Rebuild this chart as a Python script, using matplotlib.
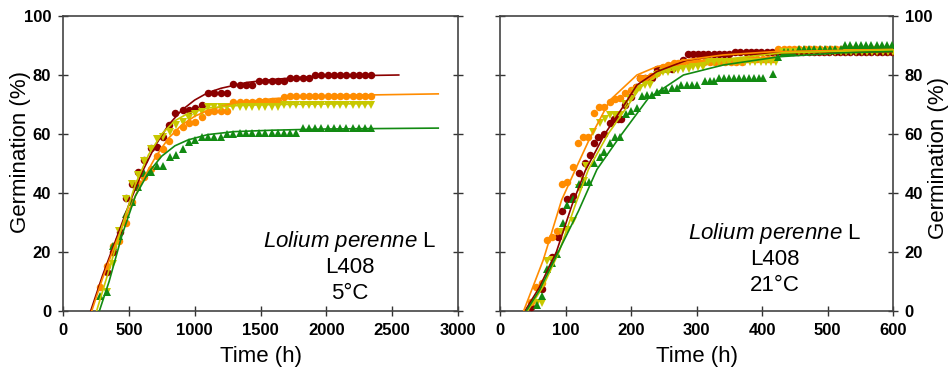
import matplotlib
matplotlib.use("Agg")
from matplotlib import pyplot as plt

plt.rcParams['font.family'] = ['Liberation Sans', 'DejaVu Sans']
plt.rcParams['mathtext.fontset'] = 'custom'
plt.rcParams['mathtext.rm'] = 'Liberation Sans'
plt.rcParams['mathtext.it'] = 'Liberation Sans:italic'

# ---- tick labels ----
ticks_x5 = [0, 500, 1000, 1500, 2000, 2500, 3000]
ticks_x21 = [0, 100, 200, 300, 400, 500, 600]
ticks_y = [0, 20, 40, 60, 80, 100]

# ---- 5 °C : measured points ----
t5_rojo = [332, 382, 433, 478, 521, 572, 617, 666, 711, 762, 807, 853, 908, 954, 1002,
           1053, 1103, 1149, 1197, 1243, 1293, 1344, 1390, 1435, 1486, 1536, 1587, 1635,
           1678, 1724, 1769, 1820, 1865, 1913, 1961, 2009, 2057, 2105, 2153, 2201, 2249,
           2297, 2343]
g5_rojo = [13.3, 20.1, 26.9, 38.2, 43, 47, 51.2, 55.1, 55.5, 59.1, 63, 67, 68, 68, 68.7,
           69.8, 73.8, 73.8, 73.8, 73.8, 76.9, 76.6, 76.6, 76.6, 78, 78, 78, 78,
           78, 79, 79, 79, 79, 80, 80, 80, 80, 80, 80, 80, 80,
           80, 80]
t5_naranja = [281, 332, 382, 428, 476, 521, 572, 617, 666, 711, 762, 808, 858, 908, 954,
              1002, 1053, 1103, 1149, 1197, 1243, 1293, 1344, 1390, 1435, 1486, 1536,
              1587, 1635, 1678, 1724, 1769, 1820, 1865, 1913, 1961, 2009, 2057, 2105,
              2153, 2201, 2249, 2297, 2343]
g5_naranja = [8.2, 15.2, 22, 23.8, 30, 37, 43.3, 45.5, 48, 52.6, 55, 57.5, 60.8, 62.5, 63.6,
              64.2, 65.6, 67.6, 67.8, 67.8, 67.8, 71, 71, 71, 71, 71.3, 71.3,
              71.3, 71.3, 72.7, 73, 73, 73, 73, 73, 73, 73, 73, 73,
              73, 73, 73, 73, 73]
t5_amarillo = [332, 382, 428, 476, 521, 572, 617, 666, 711, 762, 812, 858, 908, 954, 1002,
               1053, 1103, 1149, 1197, 1243, 1293, 1344, 1390, 1435, 1486, 1536, 1587,
               1635, 1678, 1724, 1769, 1820, 1865, 1913, 1961, 2009, 2057, 2105, 2153,
               2201, 2249, 2297, 2343]
g5_amarillo = [6.5, 15.8, 27, 38, 43, 46, 51, 54.8, 58.2, 59, 60.8, 63, 64, 65.3, 66.8,
               67.6, 69.3, 69.3, 69.3, 69.3, 69.3, 69.3, 69.3, 69.3, 69.3, 69.3, 69.3,
               69.3, 69.8, 69.8, 69.8, 69.8, 69.8, 69.8, 69.8, 69.8, 69.8, 69.8, 69.8,
               69.8, 69.8, 69.8, 69.8]
t5_verde = [281, 332, 382, 428, 476, 521, 572, 617, 666, 711, 762, 812, 858, 908, 954,
            1002, 1053, 1103, 1149, 1197, 1243, 1293, 1344, 1390, 1435, 1486, 1536, 1587,
            1635, 1678, 1724, 1769, 1820, 1865, 1913, 1961, 2009, 2057, 2105, 2153, 2201,
            2249, 2297, 2343]
g5_verde = [5, 6.3, 22, 25.5, 33, 37, 42.1, 46.9, 47, 49.1, 49.1, 52.3, 52.9, 54.8, 57.4,
            58, 58.9, 59.1, 59.1, 59.1, 60, 60, 60.3, 60.5, 60.5, 60.5, 60.5, 60.5,
            60.5, 60.5, 60.5, 60.5, 61.9, 61.9, 61.9, 61.9, 61.9, 61.9, 61.9, 61.9, 61.9,
            61.9, 61.9, 61.9]

# ---- 5 °C : fitted curves ----
lt5_rojo = [210, 300, 400, 500, 600, 700, 800, 900, 1000, 1100, 1200, 1400, 1600, 1800, 2000, 2550]
lg5_rojo = [0, 12, 24, 36, 47, 56, 63, 68, 71.5, 74, 75.5, 77.5, 78.5, 79.2, 79.6, 80]
lt5_naranja = [218, 300, 400, 500, 600, 700, 800, 900, 1000, 1100, 1300, 1600, 2000, 2850]
lg5_naranja = [0, 11, 23, 34, 44, 52, 58.5, 63, 66, 68, 70.5, 72, 73, 73.6]
lt5_amarillo = [255, 350, 450, 550, 650, 750, 850, 950, 1100, 1300, 1600, 2350]
lg5_amarillo = [0, 14, 29, 43, 53, 60, 64.5, 67, 68.8, 69.6, 70, 70.3]
lt5_verde = [276, 350, 450, 550, 650, 750, 850, 950, 1100, 1300, 1600, 2000, 2850]
lg5_verde = [0, 10, 26, 39, 47, 52.5, 56, 58, 59.8, 60.8, 61.3, 61.7, 62]

# ---- 21 °C : measured points ----
t21_rojo = [47, 64, 79, 88, 94, 103, 111, 120, 129, 137, 144, 150, 159, 168, 174, 180, 185,
            191, 200, 207, 214, 221, 228, 232, 239, 247, 255, 262, 270, 279, 287, 294, 302,
            310, 318, 326, 334, 342, 350, 359, 367, 375, 383, 391, 399, 407, 415, 423,
            431, 439, 447, 455, 463, 471, 479, 487, 495, 503, 511, 519, 527, 535, 543,
            551, 559, 567, 575, 583, 591, 599]
g21_rojo = [1.2, 7.3, 18.2, 25.2, 34, 37.9, 39, 46.9, 50, 53, 56.8, 58.9, 59.9, 63.6, 65, 65, 65,
            69.8, 72.6, 76, 78.9, 78.9, 78.9, 78.9, 81.9, 82, 82, 82, 83, 85, 87, 87, 87,
            87, 87, 87, 87, 87, 87, 87.9, 87.9, 87.9, 87.9, 87.9, 87.9, 87.9, 87.9, 87.9,
            87.9, 87.9, 87.9, 87.9, 87.9, 87.9, 87.9, 87.9, 87.9, 87.9, 87.9, 87.9, 87.9, 87.9, 87.9,
            87.9, 87.9, 87.9, 87.9, 87.9, 87.9, 87.9]
t21_naranja = [47, 55, 64, 71, 79, 87, 94, 103, 112, 119, 127, 135, 144, 151, 159, 168, 176,
               183, 191, 200, 207, 214, 222, 230, 239, 249, 257, 265, 272, 280, 288, 296,
               304, 312, 320, 328, 336, 344, 352, 360, 369, 377, 385, 393, 401, 409, 417,
               425, 433, 441, 449, 457, 465, 473, 481, 489, 497, 505, 513, 521, 529, 537,
               545, 553, 561, 569, 577, 585, 593, 601]
g21_naranja = [3.2, 8.3, 9.4, 24, 25.2, 27.1, 43, 43.8, 48.9, 56.8, 58.9, 58.9, 67, 69, 69, 71,
               71.7, 72.1, 74, 75, 75.8, 78.9, 79, 79.5, 80.8, 82.8, 83.4, 84, 84, 84.5, 84.5,
               84.5, 84.5, 84.5, 84.5, 84.5, 84.5, 84.5, 84.5, 84.5, 84.5, 85.3, 85.3, 85.3,
               85.3, 85.3, 85.3, 88.7, 88.7, 88.7, 88.7, 88.7, 88.7, 88.7, 88.7, 88.7, 88.7,
               88.7, 88.7, 88.7, 88.7, 88.7, 88.7, 88.7, 88.7, 88.7, 88.7, 88.7, 88.7, 88.7]
t21_amarillo = [56, 64, 71, 79, 94, 103, 112, 120, 128, 132, 142, 152, 160, 168, 176, 183,
                191, 198, 206, 214, 221, 229, 239, 249, 257, 265, 272, 280, 288, 295, 303,
                310, 318, 326, 334, 342, 350, 358, 366, 374, 382, 390, 398, 406, 414, 422,
                432, 440, 448, 456, 464, 472, 480, 488, 496, 504, 512, 520, 528, 536, 544,
                552, 560, 568, 576, 584, 592, 600]
g21_amarillo = [2.6, 2.8, 17, 17.3, 26.9, 27.5, 30.6, 41.6, 44, 49, 60.8, 63.6, 65, 66.4, 66.4,
                66.4, 70.2, 72, 74.3, 75.5, 76.6, 76.6, 80, 81.1, 81.1, 81.7, 81.7, 81.9, 82,
                82.8, 82.8, 82.8, 84.5, 84.5, 84.5, 84.5, 84.5, 84.5, 84.5, 84.5, 84.5, 84.5,
                84.5, 84.5, 84.5, 84.5, 87.9, 87.9, 87.9, 87.9, 87.9, 87.9, 87.9, 87.9, 87.9,
                87.9, 87.9, 87.9, 87.9, 87.9, 87.9, 87.9, 87.9, 87.9, 87.9, 87.9, 87.9, 87.9]
t21_verde = [56, 64, 71, 79, 87, 96, 103, 111, 120, 128, 136, 144, 152, 159, 168, 176, 183,
             192, 200, 209, 216, 224, 232, 239, 247, 254, 262, 270, 277, 285, 293, 300,
             313, 320, 327, 335, 342, 350, 357, 365, 372, 380, 387, 395, 402, 417,
             425, 433, 440, 448, 456, 464, 472, 480, 488, 496, 504, 512, 520, 527, 535,
             543, 551, 559, 567, 575, 583, 591, 599]
g21_verde = [2, 5.1, 14.1, 16.2, 19.2, 30, 36, 38, 43, 43.8, 43.8, 50, 52.3, 54, 57, 59.1,
             59.1, 66.8, 67.9, 68.7, 72.9, 73.2, 73.2, 74.3, 74.9, 74.9, 75.5, 75.5, 76.6,
             76.6, 76.6, 76.6, 78.1, 78.1, 78.1, 78.9, 78.9, 78.9, 78.9, 78.9, 78.9, 78.9,
             78.9, 78.9, 78.9, 80.2, 86.2, 87.9, 87.9, 87.9, 88.9, 88.9, 88.9, 88.9, 88.9,
             88.9, 88.9, 88.9, 88.9, 90, 90, 90, 90, 90, 90, 90, 90, 90, 90]

# ---- 21 °C : fitted curves ----
lt21_rojo = [38, 60, 86, 110, 130, 160, 188, 209, 239, 285, 341, 420, 605]
lg21_rojo = [0, 8, 20, 36, 47.5, 60, 69.3, 76.6, 81.1, 85, 86.8, 87.5, 87.9]
lt21_naranja = [36, 66, 94, 117, 137, 168, 209, 239, 280, 341, 417, 605]
lg21_naranja = [0, 17.3, 37.6, 48.9, 58.5, 71.5, 80, 82.8, 85, 86.8, 87.9, 88.7]
lt21_amarillo = [42, 65, 90, 115, 135, 165, 190, 215, 245, 290, 350, 430, 605]
lg21_amarillo = [0, 8, 20, 36, 48, 60, 68, 76, 80.5, 83.5, 85.5, 87.5, 88.5]
lt21_verde = [40, 60, 80, 100, 120, 148, 181, 226, 280, 341, 427, 520, 605]
lg21_verde = [0, 7, 16, 25, 34, 48, 58.5, 72, 80, 83.4, 86.2, 87.5, 88]

ROJO = '#8b0000'
NARANJA = '#ff8c00'
AMARILLO = '#c8c800'
VERDE = '#128a12'


def dibuja_panel(ax, puntos, lineas, ticks_x):
    estilos = [(ROJO, 'o'), (NARANJA, 'o'), (AMARILLO, 'v'), (VERDE, '^')]
    for (t, g), (color, marca) in zip(puntos, estilos):
        ax.plot(t, g, linestyle='none', marker=marca, color=color, markersize=5.4,
                markeredgewidth=0, zorder=3)
    for (t, g), (color, marca) in zip(lineas, estilos):
        ax.plot(t, g, color=color, linewidth=1.2, zorder=4)
    ax.set_xlim(ticks_x[0], ticks_x[-1])
    ax.set_ylim(0, 100)
    ax.set_xticks(ticks_x)
    ax.set_xticklabels([str(v) for v in ticks_x], fontweight='bold', fontsize=12)
    ax.set_yticks(ticks_y)
    ax.set_yticklabels([str(v) for v in ticks_y], fontweight='bold', fontsize=12)
    ax.tick_params(direction='inout', length=7, width=1, color='#333333', left=True, right=True,
                   pad=5)
    for s in ax.spines.values():
        s.set_color('#444444')
        s.set_linewidth(1.2)
    ax.set_xlabel('Time (h)', fontsize=16)
    ax.xaxis.set_label_coords(0.5, -0.12)


fig = plt.figure(figsize=(9.49, 3.71), dpi=100)
ax1 = fig.add_axes([0.0664, 0.1617, 0.4162, 0.7952])
ax2 = fig.add_axes([0.5269, 0.1617, 0.4141, 0.7952])

dibuja_panel(ax1,
             [(t5_rojo, g5_rojo), (t5_naranja, g5_naranja), (t5_amarillo, g5_amarillo), (t5_verde, g5_verde)],
             [(lt5_rojo, lg5_rojo), (lt5_naranja, lg5_naranja), (lt5_amarillo, lg5_amarillo), (lt5_verde, lg5_verde)],
             ticks_x5)
ax1.set_ylabel('Germination (%)', fontsize=16)
ax1.yaxis.set_label_coords(-0.082, 0.54)
ax1.text(2180, 23.4, r'$\mathit{Lolium\ perenne}$ L', ha='center', va='center', fontsize=16)
ax1.text(2180, 14.6, 'L408', ha='center', va='center', fontsize=16)
ax1.text(2180, 6.1, '5°C', ha='center', va='center', fontsize=16)

dibuja_panel(ax2,
             [(t21_rojo, g21_rojo), (t21_naranja, g21_naranja), (t21_amarillo, g21_amarillo), (t21_verde, g21_verde)],
             [(lt21_rojo, lg21_rojo), (lt21_naranja, lg21_naranja), (lt21_amarillo, lg21_amarillo), (lt21_verde, lg21_verde)],
             ticks_x21)
ax2.yaxis.tick_right()
ax2.tick_params(left=True, right=True, labelleft=False, labelright=True)
ax2.yaxis.set_label_position('right')
ax2.set_ylabel('Germination (%)', fontsize=16, rotation=90)
ax2.yaxis.set_label_coords(1.089, 0.52)
ax2.text(420, 26.4, r'$\mathit{Lolium\ perenne}$ L', ha='center', va='center', fontsize=16)
ax2.text(420, 17.3, 'L408', ha='center', va='center', fontsize=16)
ax2.text(420, 8.8, '21°C', ha='center', va='center', fontsize=16)

fig.savefig('out.png', dpi=100)
